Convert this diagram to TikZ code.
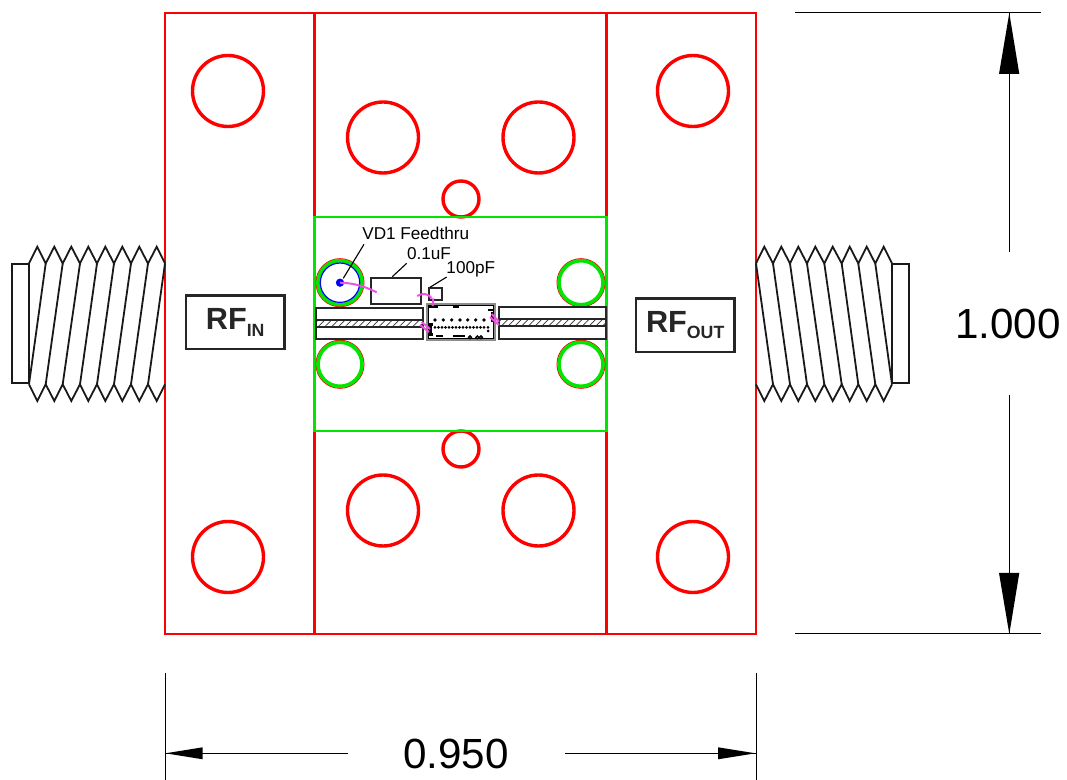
\documentclass[tikz,border=0pt]{standalone}
\usepackage{fontspec}
\setmainfont{Liberation Sans}
\usetikzlibrary{patterns.meta}
\definecolor{cadred}{RGB}{255,0,0}
\definecolor{cadgreen}{RGB}{0,230,0}
\definecolor{cadpink}{RGB}{240,80,230}
\tikzset{
	hole/.style={line width=0.85mm, color=cadred},
	housing/.style={line width=0.8mm, color=cadred},
	padring/.style={line width=0.9mm, color=cadgreen},
	part/.style={line width=0.5mm, color=black!85},
	hatchband/.style={part, pattern={Lines[angle=45, distance=3.4pt, line width=0.5pt]}, pattern color=black!80},
	thread/.style={line width=0.45mm, color=black!90, line join=miter},
	wire/.style={line width=0.5mm, color=cadpink},
	leader/.style={line width=0.28mm, color=black},
	dimline/.style={line width=0.25mm, color=black},
	partlabel/.style={font=\fontsize{12.2}{14}\selectfont, inner sep=0pt},
	dimlabel/.style={font=\fontsize{30}{34}\selectfont, inner sep=0pt},
	rflabel/.style={draw, line width=0.6mm, color=black!85, text=black!85, font=\fontsize{21.8}{24}\selectfont\bfseries, inner sep=0pt, text height=16pt, text depth=6pt, minimum width=24.6mm, minimum height=13.4mm}
}
\def\rfsub#1{\raisebox{-4.7pt}{\fontsize{12.6}{14}\selectfont #1}}

\begin{document}
\begin{tikzpicture}[x=0.25mm, y=-0.25mm]
	%%%%% HOUSING %%%%%
	\useasboundingbox (0, 0) rectangle (1067, 780);

	\draw[housing, line width=0.68mm] (165, 13) rectangle (756, 634);
	\draw[housing] (314.5, 13) -- (314.5, 634);
	\draw[housing] (606.5, 13) -- (606.5, 634);

	\draw[hole] (228, 91) circle (35.5);
	\draw[hole] (693, 91) circle (35.5);
	\draw[hole] (228, 557) circle (35.5);
	\draw[hole] (693, 557) circle (35.5);
	\draw[hole] (383, 137.5) circle (35.5);
	\draw[hole] (538.5, 137.5) circle (35.5);
	\draw[hole] (383, 510.5) circle (35.5);
	\draw[hole] (538.5, 510.5) circle (35.5);
	\draw[hole] (461, 199) circle (18);
	\draw[hole] (461, 449) circle (18);

	%%%%% LEFT CONNECTOR %%%%%
	\draw[thread, line width=0.6mm] (12, 264.3) rectangle (29, 383.3);
	\draw[thread] (29, 263.5) -- (37.3, 246.7) -- (45.7, 263.5) -- (54.3, 246.7) -- (62.7, 263.5) -- (71.3, 246.7) -- (80, 263.5) -- (88.3, 246.7) -- (97, 263.5) -- (105.3, 246.7) -- (114, 263.5) -- (122.3, 246.7) -- (131, 263.5) -- (139.3, 246.7) -- (148, 263.5) -- (156.7, 246.7) -- (165, 263.5);
	\draw[thread] (29, 384.3) -- (37.3, 401) -- (45.7, 384.3) -- (54.3, 401) -- (62.7, 384.3) -- (71.3, 401) -- (80, 384.3) -- (88.3, 401) -- (97, 384.3) -- (105.3, 401) -- (114, 384.3) -- (122.3, 401) -- (131, 384.3) -- (139.3, 401) -- (148, 384.3) -- (156.7, 401) -- (165, 384.3);
	\draw[thread] (45.7, 263.5) -- (29, 384.3);
	\draw[thread] (62.7, 263.5) -- (45.7, 384.3);
	\draw[thread] (80, 263.5) -- (62.7, 384.3);
	\draw[thread] (97, 263.5) -- (80, 384.3);
	\draw[thread] (114, 263.5) -- (97, 384.3);
	\draw[thread] (131, 263.5) -- (114, 384.3);
	\draw[thread] (148, 263.5) -- (131, 384.3);
	\draw[thread] (165, 263.5) -- (148, 384.3);

	%%%%% RIGHT CONNECTOR %%%%%
	\draw[thread, line width=0.6mm] (892, 264.3) rectangle (909, 383.3);
	\draw[thread] (756, 263.5) -- (764.3, 246.7) -- (773, 263.5) -- (781.3, 246.7) -- (790, 263.5) -- (798.3, 246.7) -- (807, 263.5) -- (815.3, 246.7) -- (824.3, 263.5) -- (832.7, 246.7) -- (841.7, 263.5) -- (849.7, 246.7) -- (858.3, 263.5) -- (866.7, 246.7) -- (875.3, 263.5) -- (883.7, 246.7) -- (892, 263.5);
	\draw[thread] (756, 384.3) -- (764.3, 401) -- (773, 384.3) -- (781.3, 401) -- (790, 384.3) -- (798.3, 401) -- (807, 384.3) -- (815.3, 401) -- (824.3, 384.3) -- (832.7, 401) -- (841.7, 384.3) -- (849.7, 401) -- (858.3, 384.3) -- (866.7, 401) -- (875.3, 384.3) -- (883.7, 401) -- (892, 384.3);
	\draw[thread] (756, 263.5) -- (773, 384.3);
	\draw[thread] (773, 263.5) -- (790, 384.3);
	\draw[thread] (790, 263.5) -- (807, 384.3);
	\draw[thread] (807, 263.5) -- (824.3, 384.3);
	\draw[thread] (824.3, 263.5) -- (841.7, 384.3);
	\draw[thread] (841.7, 263.5) -- (858.3, 384.3);
	\draw[thread] (858.3, 263.5) -- (875.3, 384.3);
	\draw[thread] (875.3, 263.5) -- (892, 384.3);

	%%%%% CARRIER %%%%%
	\draw[line width=0.68mm, color=cadgreen] (314.5, 217) rectangle (606.5, 431);

	\draw[line width=0.25mm, color=cadred] (340, 282.7) circle (24);
	\draw[line width=0.25mm, color=cadred] (581, 282.7) circle (24);
	\draw[line width=0.25mm, color=cadred] (340, 364.3) circle (24);
	\draw[line width=0.25mm, color=cadred] (581, 364.3) circle (24);
	\draw[padring] (340, 282.7) circle (22);
	\draw[padring] (581, 282.7) circle (22);
	\draw[padring] (340, 364.3) circle (22);
	\draw[padring] (581, 364.3) circle (22);
	\draw[line width=0.3mm, color=blue] (340, 282.7) circle (19.7);
	\draw[fill=blue, color=blue] (340, 282.7) circle (3.8);

	\draw[part] (371, 278.3) rectangle (421, 303.7);
	\draw[part] (428.7, 287.7) rectangle (442, 300.3);

	\draw[part] (316, 307.7) rectangle (422.7, 339);
	\draw[hatchband] (316, 320) rectangle (422.7, 327.3);
	\draw[part] (499, 307.3) rectangle (606, 338.7);
	\draw[hatchband] (499, 319) rectangle (606, 326.3);

	%%%%% CHIP %%%%%
	\draw[line width=0.45mm, color=black!45] (427, 304) rectangle (495.3, 340.3);
	\draw[line width=0.25mm, color=black] (428.5, 305.5) rectangle (493.8, 338.8);
	\fill[black] (429.3, 306) rectangle (438, 308.5);
	\fill[black] (452.7, 306) rectangle (459.3, 308.5);
	\fill[black] (488.3, 309) rectangle (493, 311.5);
	\fill[black] (490.7, 312) rectangle (493, 322);
	\fill[black] (428.5, 323.5) rectangle (433.3, 326.5);
	\fill[black] (429.3, 326.5) rectangle (431.7, 333);
	\fill[black] (428.5, 333.5) rectangle (433.3, 336);
	\fill[black] (436, 335) rectangle (443.3, 337);
	\fill[black] (452.7, 335) rectangle (465, 337);
	\fill[black] (435, 320) circle (1.8) (443.3, 320) circle (1.8) (451.7, 320) circle (1.8) (460, 320) circle (1.8) (467.7, 320) circle (1.8) (475.7, 320) circle (1.8) (484, 320) circle (1.8);
	\fill[black] (435, 327.3) circle (1.5) (438.5, 327.3) circle (1.5) (442, 327.3) circle (1.5) (445.5, 327.3) circle (1.5) (449, 327.3) circle (1.5) (452.5, 327.3) circle (1.5) (456, 327.3) circle (1.5) (459.5, 327.3) circle (1.5) (463, 327.3) circle (1.5) (466.5, 327.3) circle (1.5) (470, 327.3) circle (1.5) (473.5, 327.3) circle (1.5) (477, 327.3) circle (1.5) (480.5, 327.3) circle (1.5) (484, 327.3) circle (1.5) (488, 327.3) circle (1.5);
	\fill[black] (488, 331) circle (1.5);
	\draw[line width=0.3mm] (470, 337.3) circle (1.5);
	\draw[line width=0.3mm] (477.3, 337.3) circle (1.5);
	\draw[line width=0.3mm] (481, 337.3) circle (1.5);

	%%%%% BOND WIRES %%%%%
	\draw[wire] (340, 282.7) .. controls (355, 283) and (366, 287) .. (376.7, 292.3);
	\draw[wire] (417.3, 296) .. controls (422, 293) and (428, 293) .. (431.7, 298.3);
	\draw[wire] (433.3, 298.3) -- (432.7, 306);
	\draw[wire] (421.7, 322) -- (430, 329);
	\draw[wire] (420, 325) -- (429, 332);
	\draw[wire] (491.7, 314) -- (499, 321.7);
	\draw[wire] (490, 317) -- (499, 325);

	%%%%% LABELS %%%%%
	\node[partlabel] at (415.7, 233.5) (vdlabel) {VD1 Feedthru};
	\node[partlabel] at (429, 254) (caplabel) {0.1uF};
	\node[partlabel] at (470.8, 269.5) (smalllabel) {100pF};
	\draw[leader] (364, 244.3) -- (343.3, 278.3);
	\draw[leader] (406.7, 263.3) -- (392.3, 276.7);
	\draw[leader] (446.7, 277) -- (430, 287.3);

	\node[rflabel] at (235.2, 322.4) (rfin) {RF\rfsub{IN}};
	\node[rflabel] at (685.2, 325.3) (rfout) {RF\rfsub{OUT}};

	%%%%% DIMENSIONS %%%%%
	\draw[dimline] (795, 13) -- (1041, 13);
	\draw[dimline] (795, 634) -- (1041, 634);
	\draw[dimline] (1009.3, 13) -- (1009.3, 252);
	\draw[dimline] (1009.3, 395) -- (1009.3, 634);
	\fill[black] (1009.3, 13) -- (1019.3, 74) -- (999, 74) -- cycle;
	\fill[black] (1009.3, 634) -- (1019.3, 573) -- (999, 573) -- cycle;
	\node[dimlabel] at (1008, 324) (height) {1.000};

	\draw[dimline] (165, 673) -- (165, 780);
	\draw[dimline] (756, 673) -- (756, 780);
	\draw[dimline] (165, 753.3) -- (348, 753.3);
	\draw[dimline] (565, 753.3) -- (756, 753.3);
	\fill[black] (165.5, 753.3) -- (202.7, 747.3) -- (202.7, 759.3) -- cycle;
	\fill[black] (755.5, 753.3) -- (718, 747.3) -- (718, 759.3) -- cycle;
	\node[dimlabel] at (456, 753.5) (width) {0.950};
	%%%%% END %%%%%
\end{tikzpicture}
\end{document}
